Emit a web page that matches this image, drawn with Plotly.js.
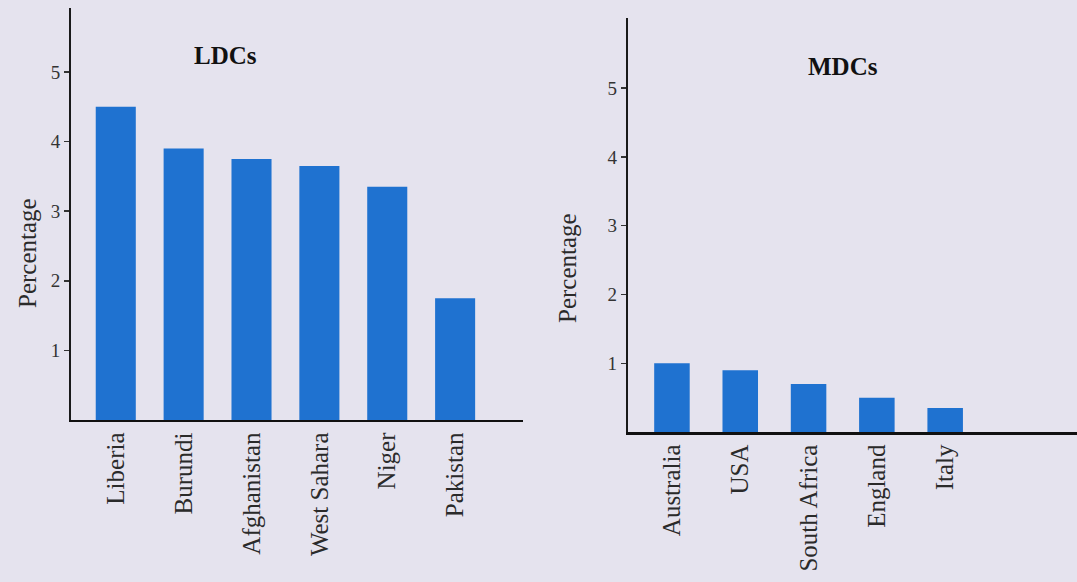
<!DOCTYPE html>
<html>
<head>
<meta charset="utf-8">
<script src="https://cdn.plot.ly/plotly-3.0.1.min.js"></script>
<style>
html,body{margin:0;padding:0;background:#e5e3ee;}
#chart{width:1077px;height:582px;}
</style>
</head>
<body>
<div id="chart"></div>
<script>
const ldcCountries = ["Liberia", "Burundi", "Afghanistan", "West Sahara", "Niger", "Pakistan"];
const ldcValues = [4.5, 3.9, 3.75, 3.65, 3.35, 1.75];
const mdcCountries = ["Australia", "USA", "South Africa", "England", "Italy"];
const mdcValues = [1.0, 0.9, 0.7, 0.5, 0.35];
const yTicks = [1, 2, 3, 4, 5];
const chartTitles = ["LDCs", "MDCs"];
const yTitle = "Percentage";

const bg = "#e5e3ee";
const barColor = "#1f72d0";
const serif = "Liberation Serif, Times New Roman, serif";

const traces = [
  {type: "bar", x: ldcCountries, y: ldcValues, xaxis: "x", yaxis: "y",
   marker: {color: barColor}, width: 0.59, hoverinfo: "x+y"},
  {type: "bar", x: mdcCountries, y: mdcValues, xaxis: "x2", yaxis: "y2",
   marker: {color: barColor}, width: 0.52, hoverinfo: "x+y"}
];

function xAxis(domain, range, anchor) {
  return {
    domain: domain, range: range, anchor: anchor, type: "category",
    showline: true, linecolor: "#111", linewidth: 2.5,
    ticks: "", tickangle: -90, showgrid: false, zeroline: false,
    tickfont: {family: serif, size: 25, color: "#2a2a2a"},
    automargin: false, fixedrange: true
  };
}
function yAxis(domain, range, anchor) {
  return {
    domain: domain, range: range, anchor: anchor,
    tickvals: yTicks, ticktext: yTicks.map(String),
    showline: true, linecolor: "#1a1a1a", linewidth: 2,
    ticks: "outside", ticklen: 5, tickwidth: 1.5, tickcolor: "#333",
    showgrid: false, zeroline: false,
    tickfont: {family: serif, size: 19, color: "#333"},
    automargin: false, fixedrange: true
  };
}

const layout = {
  width: 1077, height: 582,
  margin: {l: 0, r: 0, t: 0, b: 0},
  paper_bgcolor: bg, plot_bgcolor: bg,
  showlegend: false,
  bargap: 0.4,
  xaxis: xAxis([0.0659, 0.4856], [-0.66, 6.0], "y"),
  yaxis: yAxis([0.2784, 0.9863], [0, 5.92], "x"),
  xaxis2: xAxis([0.583, 1.0], [-0.645, 5.93], "y2"),
  yaxis2: yAxis([0.2577, 0.969], [0, 6.02], "x2"),
  annotations: [
    {text: "<b>" + chartTitles[0] + "</b>", x: 225 / 1077, y: 1 - 55 / 582, xref: "paper", yref: "paper",
     xanchor: "center", yanchor: "middle",
     showarrow: false, font: {family: serif, size: 25, color: "#111"}},
    {text: "<b>" + chartTitles[1] + "</b>", x: 843 / 1077, y: 1 - 66 / 582, xref: "paper", yref: "paper",
     xanchor: "center", yanchor: "middle",
     showarrow: false, font: {family: serif, size: 25, color: "#111"}},
    {text: yTitle, textangle: -90, x: 27 / 1077, y: 1 - 253 / 582, xref: "paper", yref: "paper",
     xanchor: "center", yanchor: "middle",
     showarrow: false, font: {family: serif, size: 25, color: "#2a2a2a"}},
    {text: yTitle, textangle: -90, x: 568 / 1077, y: 1 - 268 / 582, xref: "paper", yref: "paper",
     xanchor: "center", yanchor: "middle",
     showarrow: false, font: {family: serif, size: 25, color: "#2a2a2a"}}
  ]
};

Plotly.newPlot("chart", traces, layout, {displayModeBar: false, staticPlot: true});
</script>
</body>
</html>
